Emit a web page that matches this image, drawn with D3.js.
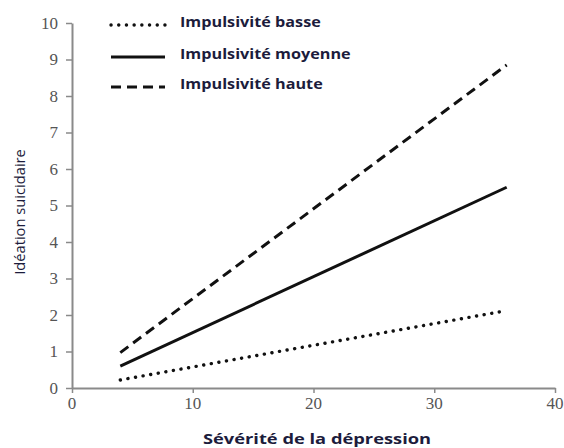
<!DOCTYPE html>
<html>
<head>
<meta charset="utf-8">
<script src="https://cdn.jsdelivr.net/npm/d3@7"></script>
<style>
  body { margin: 0; background: #fff; }
</style>
</head>
<body>
<div id="chart"></div>
<script>
// values
const xStart = 4, xEnd = 36;
const seriesNames = ["Impulsivité basse", "Impulsivité moyenne", "Impulsivité haute"];
const basse = [0.22, 2.12];
const moyenne = [0.6, 5.5];
const haute = [0.97, 8.85];
const xTicks = [0, 10, 20, 30, 40];
const yTicks = [0, 1, 2, 3, 4, 5, 6, 7, 8, 9, 10];

const W = 564, H = 448;
const margin = { top: 23, right: 9, bottom: 60, left: 72 };
const width = W - margin.left - margin.right,
      height = H - margin.top - margin.bottom;

const svg = d3.select("#chart").append("svg")
    .attr("width", W)
    .attr("height", H);

const g = svg.append("g")
    .attr("transform", "translate(" + margin.left + "," + margin.top + ")");

const x = d3.scaleLinear().domain([0, 40]).range([0, width]);
const y = d3.scaleLinear().domain([0, 10]).range([height, 0]);

const axisColor = "#8a8a8a";
const labelColor = "#1c1c3c";
const tickFont = "Liberation Serif";

// axes, tick labels drawn separately below
const yAxis = g.append("g")
    .call(d3.axisLeft(y).tickValues(yTicks).tickSize(6).tickFormat("").tickSizeOuter(0));
const xAxis = g.append("g")
    .attr("transform", "translate(0," + height + ")")
    .call(d3.axisBottom(x).tickValues(xTicks).tickSize(5).tickFormat("").tickSizeOuter(0));

[yAxis, xAxis].forEach(a => {
    a.select(".domain").attr("stroke", axisColor).attr("stroke-width", 2);
    a.selectAll(".tick line").attr("stroke", axisColor).attr("stroke-width", 1.5);
});

g.selectAll(".ylab")
    .data(yTicks)
    .join("text")
    .attr("class", "ylab")
    .attr("x", -14)
    .attr("y", d => y(d))
    .attr("dy", "0.34em")
    .attr("text-anchor", "end")
    .attr("fill", "#555")
    .attr("font-family", tickFont)
    .attr("font-size", 17)
    .text(d => d);

g.selectAll(".xlab")
    .data(xTicks)
    .join("text")
    .attr("class", "xlab")
    .attr("x", d => x(d))
    .attr("y", height + 21)
    .attr("text-anchor", "middle")
    .attr("fill", "#555")
    .attr("font-family", tickFont)
    .attr("font-size", 17)
    .text(d => d);

// series
const styles = [
    { data: basse, dash: "0.1,7.6", cap: "round", w: 3.4 },
    { data: moyenne, dash: null, cap: "butt", w: 3 },
    { data: haute, dash: "10,6", cap: "butt", w: 3 }
];

const line = d3.line().x(d => x(d[0])).y(d => y(d[1]));

styles.forEach(s => {
    g.append("path")
        .datum([[xStart, s.data[0]], [xEnd, s.data[1]]])
        .attr("fill", "none")
        .attr("stroke", "#111")
        .attr("stroke-width", s.w)
        .attr("stroke-linecap", s.cap)
        .attr("stroke-dasharray", s.dash)
        .attr("d", line);
});

// legend
const legendY = [25, 57, 87];
styles.forEach((s, i) => {
    svg.append("line")
        .attr("x1", 111).attr("x2", 165)
        .attr("y1", legendY[i]).attr("y2", legendY[i])
        .attr("stroke", "#111")
        .attr("stroke-width", s.w)
        .attr("stroke-linecap", s.cap)
        .attr("stroke-dasharray", s.dash);
    svg.append("text")
        .attr("transform", "translate(180," + (legendY[i] - 3) + ") scale(1.2,1)")
        .attr("dy", "0.35em")
        .attr("fill", labelColor)
        .style("font-family", "'Open Sans', sans-serif")
        .style("font-weight", "bold")
        .style("font-size", "13.5px")
        .text(seriesNames[i]);
});

// axis titles
svg.append("text")
    .attr("transform", "translate(20,212) rotate(-90) scale(1.05,1)")
    .attr("text-anchor", "middle")
    .attr("dy", "0.35em")
    .attr("fill", labelColor)
    .style("font-family", "'Open Sans', sans-serif")
    .style("font-size", "14px")
    .text("Idéation suicidaire");

svg.append("text")
    .attr("transform", "translate(317,439) scale(1.22,1)")
    .attr("text-anchor", "middle")
    .attr("dy", "0.35em")
    .attr("fill", labelColor)
    .style("font-family", "'Open Sans', sans-serif")
    .style("font-weight", "bold")
    .style("font-size", "15px")
    .text("Sévérité de la dépression");
</script>
</body>
</html>
